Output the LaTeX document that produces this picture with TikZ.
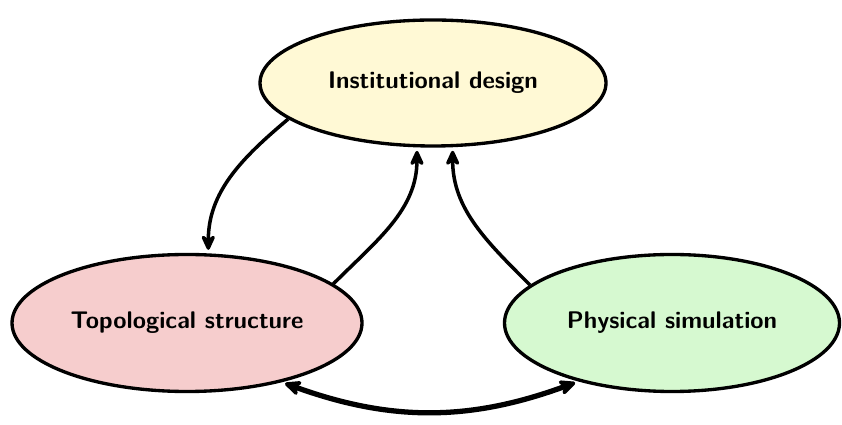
\documentclass[tikz,border=0pt]{standalone}
\usepackage{amsmath, amsfonts, amssymb}
\usetikzlibrary{shapes.geometric}
\usetikzlibrary{arrows.meta}
\usetikzlibrary{calc}

\definecolor{instfill}{HTML}{FFF9D5}
\definecolor{topofill}{HTML}{F6CDCD}
\definecolor{physfill}{HTML}{D6F9D0}

\begin{document}
\begin{tikzpicture}[
    area/.style={ellipse, draw, line width=1.9pt, font=\fontsize{13.7}{16}\selectfont\sffamily\bfseries},
    link/.style={line width=2pt, -{Stealth[round, length=11pt, width=10pt]}, shorten >=2pt},
    both/.style={line width=3pt, {Stealth[round, length=12pt, width=11pt]}-{Stealth[round, length=12pt, width=11pt]}, shorten >=2pt, shorten <=2pt}
  ]
      \useasboundingbox (0,0) rectangle (16.84,-8.5);

      % Draw the three areas
      \node[area, fill=instfill, minimum width=6.92cm, minimum height=2.52cm] (inst) at (8.66,-1.66) {Institutional design};
      \node[area, fill=topofill, minimum width=7cm, minimum height=2.74cm] (topo) at (3.74,-6.46) {Topological structure};
      \node[area, fill=physfill, minimum width=6.7cm, minimum height=2.74cm] (phys) at (13.44,-6.46) {Physical simulation};

      % Feedback between the areas
      \draw[link] (inst.194) to[out=220, in=90] (topo.73);
      \draw[link] (topo.15) to[out=45, in=-90] (inst.256);
      \draw[link] (phys.165) to[out=135, in=-90] (inst.287);

      % Coupling at the bottom
      \draw[both] (topo.-32) to[bend right=20] (phys.212);
    \end{tikzpicture}
\end{document}
